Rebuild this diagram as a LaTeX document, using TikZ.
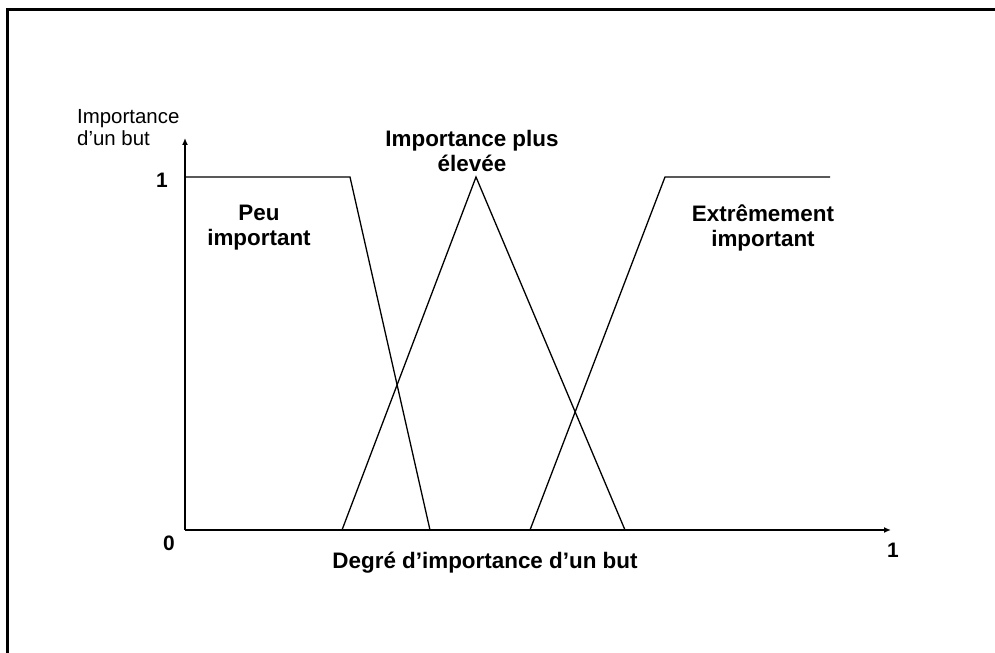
\documentclass[tikz,border=0pt]{standalone}
\usepackage{fontspec}
\setmainfont{Liberation Sans}
\usetikzlibrary{arrows.meta}
\begin{document}
\begin{tikzpicture}[x=1bp,y=-1bp,
  frameline/.style={line width=3bp},
  axisline/.style={line width=1.6bp,-{Latex[length=7bp,width=6bp]}},
  curveline/.style={line width=1.3bp,line join=miter},
  boldlabel/.style={font=\fontsize{22.5}{25}\selectfont\bfseries,align=center,inner sep=0pt},
  thinlabel/.style={font=\fontsize{20.5}{22}\selectfont,align=left,inner sep=0pt,anchor=west},
  ticklabel/.style={font=\fontsize{21}{24}\selectfont\bfseries,inner sep=0pt}]
\useasboundingbox (0,0) rectangle (995,653);

% frame: top and left edges only
\draw[frameline] (7.5,653) -- (7.5,10) -- (995,10);

% axes
\coordinate (O) at (185,530);
\coordinate (ytop) at (185,138);
\coordinate (xend) at (891,530);
\draw[axisline] (O) -- (ytop);
\draw[axisline] (O) -- (xend);

% membership functions
\coordinate (a1) at (185,177);
\coordinate (a2) at (350,177);
\coordinate (a3) at (430,530);
\coordinate (b1) at (342,530);
\coordinate (b2) at (476,177);
\coordinate (b3) at (625,530);
\coordinate (c1) at (530,530);
\coordinate (c2) at (665,177);
\coordinate (c3) at (830,177);
\draw[curveline] (a1) -- (a2) -- (a3);
\draw[curveline] (b1) -- (b2) -- (b3);
\draw[curveline] (c1) -- (c2) -- (c3);

% labels
\node[thinlabel] (ylab) at (77,128) {Importance\\d'un but};
\node[ticklabel] (yone) at (162,180) {1};
\node[ticklabel] (zero) at (169,543) {0};
\node[ticklabel] (xone) at (893,550) {1};
\node[boldlabel] (low) at (259,228) {Peu\\important};
\node[boldlabel] (mid) at (472,151) {Importance plus\\élevée};
\node[boldlabel] (high) at (763,228) {Extrêmement\\important};
\node[boldlabel] (xlab) at (485,563) {Degré d’importance d’un but};
\end{tikzpicture}
\end{document}
